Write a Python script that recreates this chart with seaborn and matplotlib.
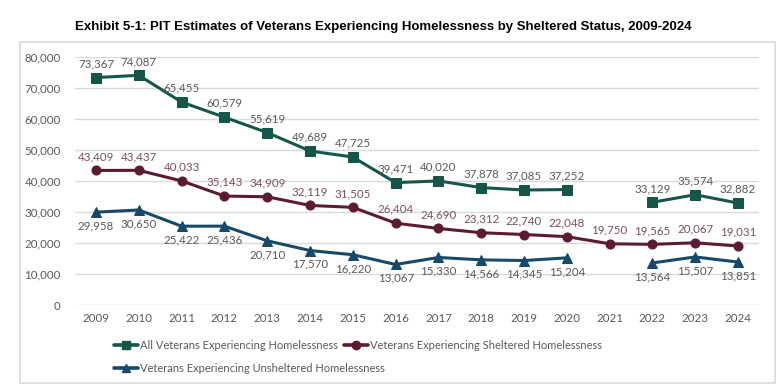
import numpy as np
import pandas as pd
import matplotlib
matplotlib.use("Agg")
import matplotlib.pyplot as plt
from matplotlib.lines import Line2D
from matplotlib.patches import Rectangle
import seaborn as sns

years = list(range(2009, 2025))
all_vets = [73367, 74087, 65455, 60579, 55619, 49689, 47725, 39471, 40020, 37878,
            37085, 37252, np.nan, 33129, 35574, 32882]
sheltered = [43409, 43437, 40033, 35143, 34909, 32119, 31505, 26404, 24690, 23312,
             22740, 22048, 19750, 19565, 20067, 19031]
unsheltered = [29958, 30650, 25422, 25436, 20710, 17570, 16220, 13067, 15330, 14566,
               14345, 15204, np.nan, 13564, 15507, 13851]
series_names = ["All Veterans Experiencing Homelessness",
                "Veterans Experiencing Sheltered Homelessness",
                "Veterans Experiencing Unsheltered Homelessness"]
title = "Exhibit 5-1: PIT Estimates of Veterans Experiencing Homelessness by Sheltered Status, 2009-2024"

sns.set_theme(style="white")
plt.rcParams['font.family'] = ['Lato', 'DejaVu Sans']

colors = ["#15564A", "#5C1B2E", "#17496A"]
label_colors = ["#595959", "#7D4C63", "#595959"]
markers = ["s", "o", "^"]
label_pos = ["above", "above", "below"]
values = [all_vets, sheltered, unsheltered]

fig = plt.figure(figsize=(7.8, 3.89), dpi=100)
fig.patches.append(Rectangle((20/780, 1-383/389), 755/780, 341/389, transform=fig.transFigure,
                             fill=False, edgecolor="#D9D9D9", linewidth=1.2))
ax = fig.add_axes([74.6/780, 1-305/389, 684.8/780, 248/389])

for name, vals, c, lc, m, pos in zip(series_names, values, colors, label_colors, markers, label_pos):
    df = pd.DataFrame({"year": years, "value": vals})
    # split into contiguous segments (gap where data missing)
    seg = df["value"].isna().cumsum()
    df["seg"] = seg
    df = df.dropna()
    for _, sub in df.groupby("seg"):
        sns.lineplot(data=sub, x="year", y="value", ax=ax, color=c, marker=m,
                     markersize=6.5, markeredgecolor=c, linewidth=2.2, legend=False,
                     estimator=None)
    for y, v in zip(df["year"], df["value"]):
        if pos == "above":
            ax.annotate(f"{int(v):,}", (y, v), xytext=(0, 6), textcoords="offset points",
                        ha="center", va="bottom", fontsize=8.3, color=lc)
        else:
            ax.annotate(f"{int(v):,}", (y, v), xytext=(0, -6), textcoords="offset points",
                        ha="center", va="top", fontsize=8.3, color=lc)

ax.set_xlim(2008.5, 2024.5)
ax.set_ylim(0, 80000)
ax.set_xticks(years)
ax.set_xticklabels([str(y) for y in years])
ax.set_yticks(range(0, 80001, 10000))
ax.yaxis.set_major_formatter(matplotlib.ticker.FuncFormatter(lambda v, p: f"{int(v):,}"))
ax.grid(axis="y", color="#D9D9D9", linewidth=1)
ax.set_axisbelow(True)
for s in ax.spines.values():
    s.set_visible(False)
ax.tick_params(axis="both", labelsize=8.3, colors="#595959", length=0)
ax.tick_params(axis="y", pad=10)
ax.tick_params(axis="x", pad=6)
ax.set_xlabel("")
ax.set_ylabel("")

fig.text(383/780, 1-27/389, title, ha="center", va="center", fontsize=9.5, fontweight="bold",
         family=["Liberation Sans Narrow", "Liberation Sans", "DejaVu Sans"], color="#000000")

handles = [Line2D([], [], color=c, marker=m, markersize=6, linewidth=2.6) for c, m in zip(colors, markers)]
leg_kw = dict(loc="upper left", frameon=False, fontsize=8, handlelength=2.2, handletextpad=0.1,
              labelspacing=1.05, borderaxespad=0, borderpad=0, labelcolor="#595959")
fig.legend([handles[0], handles[2]], [series_names[0], series_names[2]],
           bbox_to_anchor=(114/780, 1-340/389), **leg_kw)
fig.legend([handles[1]], [series_names[1]],
           bbox_to_anchor=(344/780, 1-340/389), **leg_kw)

fig.savefig("out.png", dpi=100)
